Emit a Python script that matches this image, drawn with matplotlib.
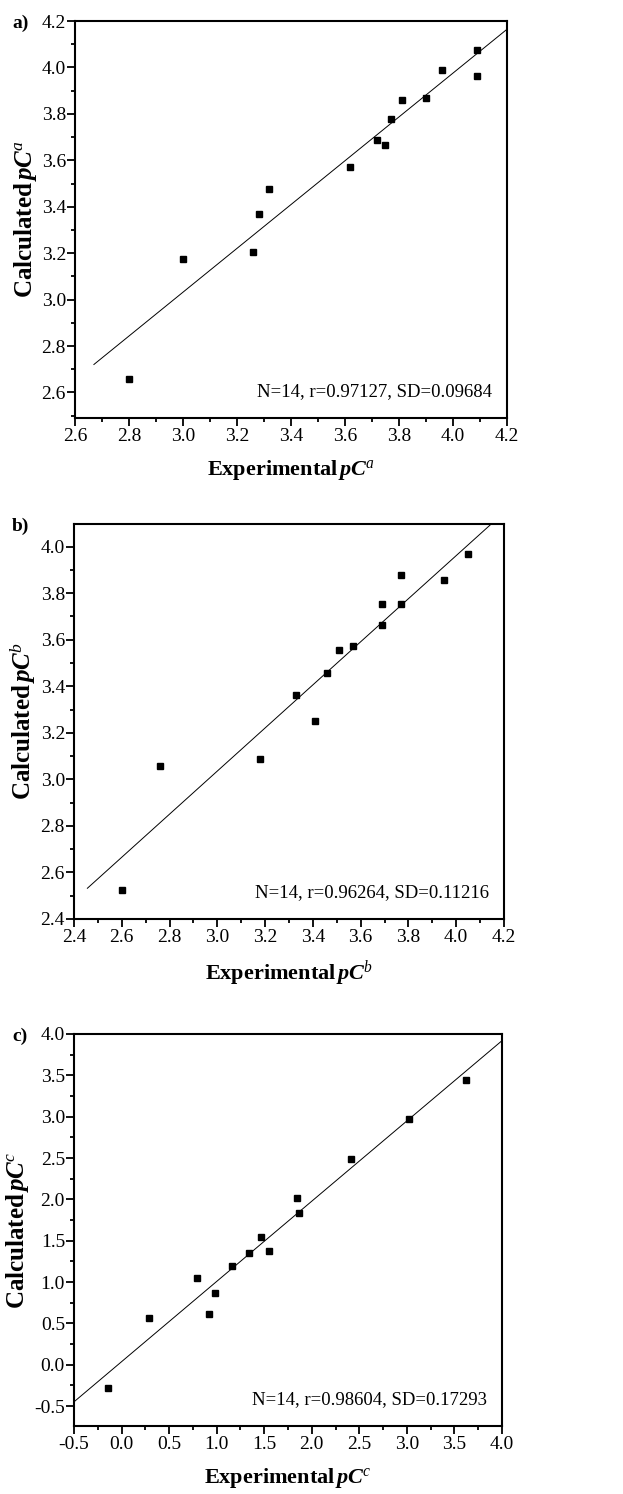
import numpy as np
import matplotlib
matplotlib.use('Agg')
import matplotlib.pyplot as plt
from matplotlib.ticker import MultipleLocator, FormatStrFormatter

plt.rcParams['font.family'] = ['Liberation Serif', 'DejaVu Serif']
plt.rcParams['mathtext.fontset'] = 'custom'
plt.rcParams['mathtext.rm'] = 'Liberation Serif'
plt.rcParams['mathtext.it'] = 'Liberation Serif:italic'
plt.rcParams['mathtext.bf'] = 'Liberation Serif:bold'
plt.rcParams['mathtext.bfit'] = 'Liberation Serif:italic:bold'

# panel a
exp_a = [4.09, 3.96, 4.09, 3.81, 3.90, 3.77, 3.72, 3.75, 3.62, 3.32, 3.28, 3.26, 3.00, 2.80]
calc_a = [4.076, 3.988, 3.965, 3.861, 3.868, 3.776, 3.689, 3.668, 3.569, 3.478, 3.369, 3.206, 3.176, 2.657]
# panel b
exp_b = [4.05, 3.95, 3.77, 3.77, 3.69, 3.69, 3.57, 3.51, 3.46, 3.33, 3.41, 3.18, 2.76, 2.60]
calc_b = [3.969, 3.857, 3.877, 3.755, 3.753, 3.665, 3.574, 3.554, 3.455, 3.362, 3.251, 3.086, 3.056, 2.524]
# panel c
exp_c = [3.625, 3.021, 2.411, 1.843, 1.864, 1.464, 1.545, 1.345, 1.166, 0.798, 0.987, 0.924, 0.289, -0.139]
calc_c = [3.449, 2.972, 2.490, 2.012, 1.835, 1.546, 1.382, 1.349, 1.189, 1.052, 0.864, 0.614, 0.566, -0.277]

stats = ['N=14, r=0.97127, SD=0.09684',
         'N=14, r=0.96264, SD=0.11216',
         'N=14, r=0.98604, SD=0.17293']
letters = ['a', 'b', 'c']

W, H = 623, 1494
fig = plt.figure(figsize=(W / 100, H / 100), dpi=100, facecolor='white')

# left, right, top, bottom in pixels
boxes = [(75, 507, 21, 418), (74, 504, 524, 919), (74, 502, 1034, 1426)]
xlims = [(2.6, 4.2), (2.4, 4.2), (-0.5, 4.0)]
ylims = [(2.49, 4.2), (2.4, 4.097), (-0.74, 4.0)]
steps = [0.2, 0.2, 0.5]
line_x = [(2.67, 4.2), (2.456, 4.2), (-0.5, 4.0)]
data = [(exp_a, calc_a), (exp_b, calc_b), (exp_c, calc_c)]

for i in range(3):
    l, r, t, b = boxes[i]
    ax = fig.add_axes([l / W, 1 - b / H, (r - l) / W, (b - t) / H])
    x, y = data[i]
    ax.plot(x, y, 's', color='black', ms=4.5)
    k, c0 = np.polyfit(x, y, 1)
    lx = np.array(line_x[i])
    ax.plot(lx, k * lx + c0, '-', color='black', lw=0.7)
    ax.set_xlim(*xlims[i])
    ax.set_ylim(*ylims[i])
    for s in ax.spines.values():
        s.set_linewidth(1.5)
    ax.xaxis.set_major_locator(MultipleLocator(steps[i]))
    ax.xaxis.set_minor_locator(MultipleLocator(steps[i] / 2))
    ax.yaxis.set_major_locator(MultipleLocator(steps[i]))
    ax.yaxis.set_minor_locator(MultipleLocator(steps[i] / 2))
    ax.tick_params(which='both', direction='out', top=False, right=False,
                   labelsize=14, width=1.3)
    ax.tick_params(axis='x', pad=2)
    ax.tick_params(axis='y', pad=1)
    ax.tick_params(which='major', length=5.5)
    ax.tick_params(which='minor', length=3)
    ax.xaxis.set_major_formatter(FormatStrFormatter('%.1f'))
    ax.yaxis.set_major_formatter(FormatStrFormatter('%.1f'))
    lt = letters[i]
    ax.set_xlabel(r'Experimental$\,\mathbfit{pC}^{\mathit{%s}}$' % lt,
                  fontsize=16, fontweight='bold', labelpad=9)
    ax.set_ylabel(r'Calculated$\,\mathbfit{pC}^{\mathit{%s}}$' % lt,
                  fontsize=18, fontweight='bold', labelpad=2)
    ax.text(0.965, 0.045, stats[i], transform=ax.transAxes, ha='right',
            va='bottom', fontsize=13.5)
    fig.text(12 / W, 1 - (t + 2) / H, lt + ')', fontsize=14, fontweight='bold',
             va='center', ha='left')

plt.savefig('out.png', dpi=100)
